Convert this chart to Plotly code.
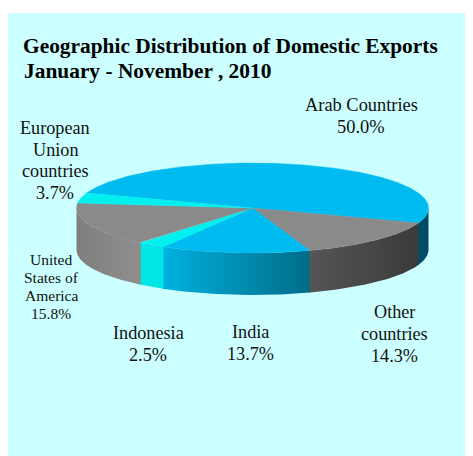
import numpy as np
import plotly.graph_objects as go

# Data (listed clockwise, starting with the Arab Countries slice)
categories = ["Arab Countries", "Other countries", "India", "Indonesia",
              "United States of America", "European Union countries"]
shares = [50.0, 14.3, 13.7, 2.5, 15.8, 3.7]
label_lines = [["Arab Countries", "50.0%"], ["Other", "countries", "14.3%"],
               ["India", "13.7%"], ["Indonesia", "2.5%"],
               ["United", "States of", "America", "15.8%"],
               ["European", "Union", "countries", "3.7%"]]
label_x = [361, 394, 250.5, 148, 51, 55]
label_y = [105, 312, 332, 333, 259.5, 128]
label_size = [18.4, 18.2, 18.2, 18.2, 15.5, 18.2]
label_step = [21.5, 22, 22, 22, 18, 21.7]
top_colors = ["#00BBF0", "#8A8A8A", "#00BBF0", "#00F0F0", "#8A8A8A", "#00F0F0"]
wall_gradients = [["#004E68", "#004A62"], ["#565656", "#3A3A3A"], ["#00B2E0", "#006C88"],
                  ["#00E6E6", "#00E6E6"], ["#7E7E7E", "#8E8E8E"], ["#00E8E8", "#00E8E8"]]
title_line_1 = "<b>Geographic Distribution of Domestic Exports</b>"
title_line_2 = "<b>January - November , 2010</b>"

# Pie projection
CX, CY, RX, RY, DEPTH = 252.5, 208, 176, 45, 42
ARAB_START_DEG = 199.6  # Arab slice starts here, angles grow clockwise on screen


def arc(a, b):
    t = np.radians(np.linspace(a, b, max(int(abs(b - a) * 2), 2)))
    return CX + RX * np.cos(t), CY + RY * np.sin(t)


bounds = [ARAB_START_DEG - 360.0]
for s in shares:
    bounds.append(bounds[-1] + 360 * s / 100)

fig = go.Figure()

# Walls: only the front half (0..180 deg) is visible; small overlap hides seams
for i, name in enumerate(categories):
    lo, hi = max(bounds[i], 0), min(bounds[i + 1] + 0.4, 180)
    if hi <= lo:
        continue
    x, y = arc(lo, hi)
    c0, c1 = wall_gradients[i]
    fig.add_trace(go.Scatter(
        x=np.concatenate([x, x[::-1]]), y=np.concatenate([y, y[::-1] + DEPTH]),
        mode="lines", fill="toself", line=dict(width=0), fillcolor=c0,
        fillgradient=dict(type="horizontal", colorscale=[[0, c0], [1, c1]]),
        hoverinfo="skip", showlegend=False, name=name))

# Top face
for i, name in enumerate(categories):
    x, y = arc(bounds[i], bounds[i + 1])
    fig.add_trace(go.Scatter(
        x=np.concatenate([[CX], x, [CX]]), y=np.concatenate([[CY], y, [CY]]),
        mode="lines", fill="toself", line=dict(width=0.4, color=top_colors[i]),
        fillcolor=top_colors[i], hoverinfo="skip", showlegend=False, name=name))

for lines, lx, ly, sz, step in zip(label_lines, label_x, label_y, label_size, label_step):
    for j, line in enumerate(lines):
        fig.add_annotation(x=lx, y=ly + j * step, text=line, showarrow=False,
                           font=dict(family="Liberation Serif", size=sz, color="#111111"))

fig.add_annotation(x=21.5, y=70.5, text=title_line_2, showarrow=False, xanchor="left",
                   font=dict(family="Liberation Serif", size=21.4, color="#000000"))

fig.update_layout(
    width=465, height=448, autosize=False,
    margin=dict(l=0, r=0, t=5, b=0),
    paper_bgcolor="#FFFFFF", plot_bgcolor="#CCFFFF",
    title=dict(text=title_line_1, x=15 / 465, y=1 - 30 / 448, xanchor="left", yanchor="top",
               xref="container", yref="container",
               font=dict(family="Liberation Serif", size=21.4, color="#000000")),
    xaxis=dict(range=[8, 473], visible=False, fixedrange=True),
    yaxis=dict(range=[456, 13], visible=False, fixedrange=True),
)
fig.write_html("out.html")
